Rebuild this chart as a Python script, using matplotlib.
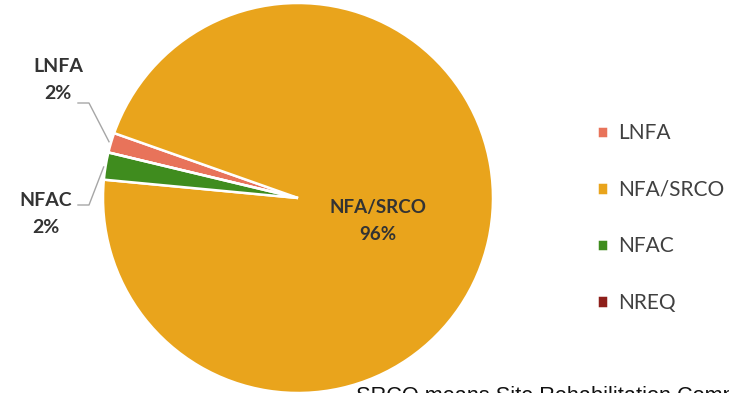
import numpy as np
import matplotlib.pyplot as plt

# share of sites by status
labels = ["LNFA", "NFA/SRCO", "NFAC", "NREQ"]
shares = [1.65, 96.1, 2.25, 0.0]
colors = ["#E8735A", "#E9A41C", "#3F8C1E", "#8E1F1A"]
shown_pct = ["2%", "96%", "2%", ""]
note = "SRCO means Site Rehabilitation Completion Order"

W, H = 729, 393
fig = plt.figure(figsize=(W / 100, H / 100), dpi=100)
ax = fig.add_axes([0, 0, 1, 1])

cx, cy, r = 298, 195, 195
wedges, _ = ax.pie(shares, colors=colors, startangle=166.5, counterclock=False,
                   center=(cx, cy), radius=r, frame=True,
                   wedgeprops=dict(edgecolor="white", linewidth=1.8))
ax.set_xlim(0, W)
ax.set_ylim(0, H)
ax.axis("off")

font = "Lato"
dark = "#333333"

# outside labels with elbow leader lines for the two thin slices
def edge_point(w):
    mid = np.deg2rad((w.theta1 + w.theta2) / 2)
    return cx + r * np.cos(mid), cy + r * np.sin(mid)

ex, ey = edge_point(wedges[0])
ax.plot([78, 89, ex - 2], [290, 290, ey + 1], color="#A6A6A6", lw=1)
ax.text(58, 313, labels[0] + "\n" + shown_pct[0], ha="center", va="center",
        fontsize=14, fontweight="bold", color=dark, family=font, linespacing=1.75)

ex, ey = edge_point(wedges[2])
ax.plot([78, 89, ex - 2], [188, 188, ey - 1], color="#A6A6A6", lw=1)
ax.text(46, 179, labels[2] + "\n" + shown_pct[2], ha="center", va="center",
        fontsize=14, fontweight="bold", color=dark, family=font, linespacing=1.7)

ax.text(378, 172, labels[1] + "\n" + shown_pct[1], ha="center", va="center",
        fontsize=13.5, fontweight="bold", color=dark, family=font, linespacing=1.75)

leg = ax.legend(wedges, labels, loc="center left", bbox_to_anchor=(578 / W, 175 / H),
                frameon=False, prop={"family": font, "size": 15}, labelspacing=1.75,
                handlelength=0.55, handleheight=0.55, handletextpad=0.5)
for t in leg.get_texts():
    t.set_color("#404040")

# footnote runs off the bottom/right edge of the figure
ax.text(356, -9, note, ha="left", va="baseline", fontsize=15.7,
        family="Liberation Sans", color="#111111", clip_on=False)

fig.savefig("out.png", dpi=100, facecolor="white")
